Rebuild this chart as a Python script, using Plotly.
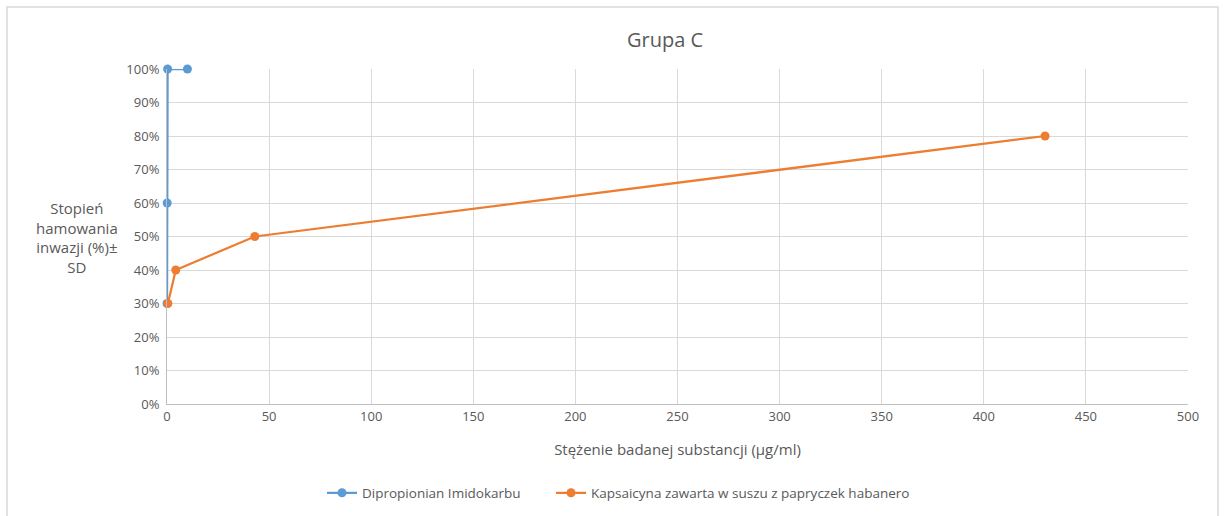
import plotly.graph_objects as go

blue_x = [0.01, 0.1, 0.3, 10]
blue_y = [0.30, 0.60, 1.00, 1.00]
orange_x = [0.43, 4.3, 43, 430]
orange_y = [0.30, 0.40, 0.50, 0.80]

series_names = ["Dipropionian Imidokarbu", "Kapsaicyna zawarta w suszu z papryczek habanero"]
title_text = "Grupa C"
x_title = "Stężenie badanej substancji (µg/ml)"
y_title = "Stopień<br>hamowania<br>inwazji (%)±<br>SD"

FONT = "Open Sans, Liberation Sans, sans-serif"
GRAY = "#595959"

fig = go.Figure()
fig.add_trace(go.Scatter(x=blue_x, y=blue_y, mode="lines+markers", name=series_names[0],
                         line=dict(color="#5B9BD5", width=2.25), cliponaxis=False,
                         marker=dict(size=9, color="#5B9BD5"), legend="legend"))
fig.add_trace(go.Scatter(x=orange_x, y=orange_y, mode="lines+markers", name=series_names[1],
                         line=dict(color="#ED7D31", width=2.25), cliponaxis=False,
                         marker=dict(size=9, color="#ED7D31"), legend="legend2"))

L, R, T, B = 167, 39, 69, 112
W, H = 1227, 516
pw, ph = W - L - R, H - T - B

def px(x):
    return (x - L) / pw

def py(y):
    return (H - B - y) / ph

leg_common = dict(orientation="h", xanchor="left", y=py(493), yanchor="middle",
                  font=dict(size=13.5, color=GRAY), bgcolor="rgba(0,0,0,0)")

fig.update_layout(
    width=W, height=H,
    margin=dict(l=L, r=R, t=T, b=B, autoexpand=False),
    paper_bgcolor="white", plot_bgcolor="white",
    font=dict(family=FONT, color=GRAY, size=13),
    title=dict(text=title_text, xref="paper", x=px(665), xanchor="center", y=1 - 40 / H, yanchor="middle",
               font=dict(size=20, color=GRAY, family=FONT)),
    xaxis=dict(range=[0, 500], dtick=50, tick0=0, showgrid=True, gridcolor="#D9D9D9", gridwidth=1,
               showline=True, linecolor="#BFBFBF", linewidth=1, zeroline=False,
               ticks="", tickfont=dict(size=13, color=GRAY),
               title=dict(text=x_title, font=dict(size=15, color=GRAY), standoff=20)),
    yaxis=dict(range=[0, 1], dtick=0.1, tickformat=".0%", showgrid=True, gridcolor="#D9D9D9", gridwidth=1,
               showline=True, linecolor="#BFBFBF", linewidth=1, zeroline=False,
               ticks="", tickfont=dict(size=13, color=GRAY), ticklabelstandoff=4),
    legend=dict(x=px(322), **leg_common),
    legend2=dict(x=px(551), **leg_common),
    showlegend=True,
)

fig.add_annotation(text=y_title, x=px(77), y=py(237), xref="paper", yref="paper",
                   xanchor="center", yanchor="middle",
                   showarrow=False, align="center", font=dict(size=15, color=GRAY, family=FONT))

fig.add_shape(type="rect", xref="paper", yref="paper",
              x0=px(7), x1=px(1218), y0=py(525), y1=py(7),
              line=dict(color="#D9D9D9", width=1.5), fillcolor="rgba(0,0,0,0)", layer="below")

fig.write_html("out.html", config={"displayModeBar": False},
               post_script="document.body.style.margin='0px';")
